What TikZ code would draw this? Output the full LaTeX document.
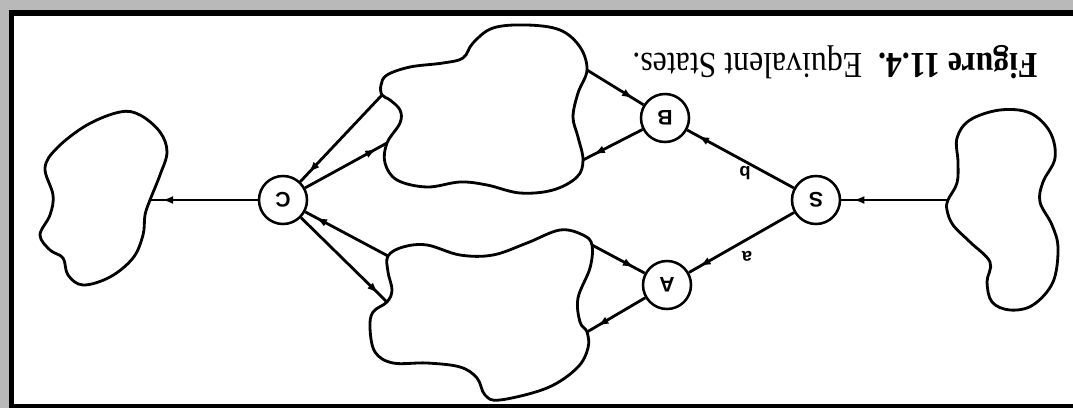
\documentclass[tikz,border=0pt]{standalone}
\usepackage{fontspec}
\setmainfont{Liberation Serif}
\setsansfont{Liberation Sans}
\usetikzlibrary{arrows.meta,decorations.markings}

\begin{document}
\begin{tikzpicture}[x=0.025cm,y=-0.025cm,
  state/.style={draw,circle,line width=1.8pt,minimum size=1.2cm,inner sep=0pt,
                font=\sffamily\bfseries\fontsize{15}{15}\selectfont,rotate=180},
  blob/.style={draw,line width=2pt},
  link/.style={line width=2pt,postaction={decorate},
               decoration={markings,mark=at position -0.3cm with
                 {\arrow{Latex[length=0.28cm,width=0.2cm]}}}},
  lbl/.style={font=\sffamily\bfseries\fontsize{13}{13}\selectfont,rotate=180}
]
  \useasboundingbox (0,0) rectangle (1073,408);

  %% ---- scanned frame (page is upside down) ----
  \fill[gray!55] (0,0) rectangle (1073,408);
  \fill[white] (12,13) rectangle (1073,406);
  \draw[line width=0.14cm] (11.5,408) -- (11.5,13) -- (1073,13);
  \draw[line width=0.1cm] (11.5,406) -- (1073,406);

  %% ---- caption ----
  \node[rotate=180,xscale=0.87,font=\fontsize{26}{30}\selectfont] (cap) at (835,62)
    {\textbf{Figure 11.4.}\ \ Equivalent States.};

  %% ---- states ----
  \node[state] (S) at (816,200) {S};
  \node[state] (A) at (667,285) {A};
  \node[state] (B) at (665,118) {B};
  \node[state] (C) at (283,200) {C};

  %% ---- blobs and the points where lines meet them ----
  \coordinate (src) at (948,200);
  \coordinate (snk) at (150,200);
  \coordinate (ub1) at (587,70);
  \coordinate (ub2) at (583,160);
  \coordinate (ub3) at (382,95);
  \coordinate (ub4) at (387,143);
  \coordinate (lb1) at (592,245);
  \coordinate (lb2) at (587,332);
  \coordinate (lb3) at (388,256);
  \coordinate (lb4) at (387,302);

  % source blob (right)
  \draw[blob] plot[smooth cycle,tension=0.6] coordinates {
    (948,200) (957,183) (958,162) (957,138) (970,120) (1000,110) (1030,113)
    (1050,132) (1055,158) (1043,182) (1040,202) (1052,225) (1058,248)
    (1053,282) (1033,305) (1010,310) (992,302) (987,282) (990,262)
    (970,242) (953,225) (947,210)};

  % sink blob (left)
  \draw[blob] plot[smooth cycle,tension=0.6] coordinates {
    (150,200) (160,175) (167,152) (160,132) (140,115) (120,112) (87,125)
    (57,148) (45,168) (53,195) (50,215) (40,235) (50,250) (63,258)
    (68,275) (83,285) (110,277) (133,258) (143,235) (145,215)};

  % upper blob (after B)
  \draw[blob] plot[smooth cycle,tension=0.6] coordinates {
    (387,75) (410,67) (443,63) (463,58) (473,43) (493,28) (527,25) (560,30)
    (580,47) (587,70) (578,93) (573,117) (578,137) (583,160) (577,177)
    (553,190) (520,193) (487,185) (460,182) (427,187) (397,180) (385,163)
    (387,143) (400,123) (400,110) (390,100) (382,95) (381,85)};

  % lower blob (after A)
  \draw[blob] plot[smooth cycle,tension=0.6] coordinates {
    (388,256) (403,247) (427,245) (460,255) (493,255) (527,243) (560,230)
    (583,235) (592,245) (590,268) (578,298) (580,322) (587,332) (588,348)
    (577,368) (547,388) (500,400) (485,395) (477,378) (460,367) (427,363)
    (393,363) (375,352) (370,328) (373,312) (387,302) (392,290) (388,272)};

  %% ---- transitions ----
  \draw[link] (src) -- (S);
  \draw[link] (S) -- (B);
  \draw[link] (S) -- (A);
  \node[lbl] (lb) at (745,173) {b};
  \node[lbl] (la) at (747,256) {a};

  \draw[link] (ub1) -- (B);
  \draw[link] (B) -- (ub2);
  \draw[link] (lb1) -- (A);
  \draw[link] (A) -- (lb2);

  \draw[link] (ub3) -- (C);
  \draw[link] (C) -- (ub4);
  \draw[link] (lb3) -- (C);
  \draw[link] (C) -- (lb4);

  \draw[link] (C) -- (snk);
\end{tikzpicture}
\end{document}
